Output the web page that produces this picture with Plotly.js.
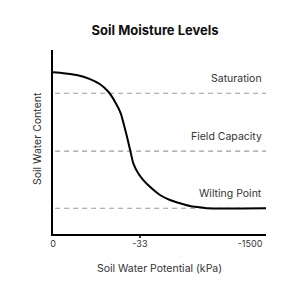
<!DOCTYPE html>
<html><head><meta charset="utf-8">
<script src="https://cdn.plot.ly/plotly-3.0.1.min.js"></script>
<style>html,body{margin:0;padding:0;background:#fff}#c{width:300px;height:300px}</style>
</head><body><div id="c"></div>
<script>
// Curve: position along potential axis (0..100) vs water content (0..100)
const curveX = [0, 4.8, 11.1, 17.4, 22.1, 26.0, 29.1, 31.8, 34.6, 36.2, 37.7, 40.0, 42.4, 46.3, 50.2, 54.9, 59.6, 64.3, 69.0, 72.2, 100];
const curveY = [87.9, 87.4, 86.4, 84.2, 81.4, 77.3, 71.9, 65.6, 53.5, 45.7, 38.4, 33.0, 29.3, 24.8, 21.2, 18.5, 16.7, 15.2, 14.5, 14, 14];
const levelNames = ["Saturation", "Field Capacity", "Wilting Point"];
const levelValues = [76.5, 45, 14];
const tickPositions = [0, 40.8, 92.5];
const tickLabels = ["0", "-33", "-1500"];
const markedTick = 40.8;

const FONT = "Inter, 'Noto Sans', sans-serif";
const traces = levelValues.map(v => ({
  x: [1, 100], y: [v, v], mode: "lines", hoverinfo: "skip",
  line: {color: "#9a9a9a", width: 1.2, dash: "5px,4px"}, showlegend: false
}));
traces.push({
  x: curveX, y: curveY, mode: "lines", showlegend: false,
  line: {color: "#000", width: 2, shape: "spline", smoothing: 0.5}
});

const annotations = levelNames.map((n, i) => ({
  x: 99, y: levelValues[i], xref: "x", yref: "y", text: n, showarrow: false,
  xanchor: "right", yanchor: "bottom", yshift: 6,
  font: {family: FONT, size: 10.5, color: "#333"}
}));
annotations.push({
  x: 0, y: 0.5, xref: "paper", yref: "paper", xshift: -16, yshift: 3, textangle: -90,
  text: "Soil Water Content", showarrow: false, xanchor: "center", yanchor: "middle",
  font: {family: FONT, size: 10.5, color: "#333"}
});

Plotly.newPlot("c", traces, {
  width: 300, height: 300,
  margin: {l: 53, r: 34, t: 50, b: 66},
  paper_bgcolor: "#fff", plot_bgcolor: "#fff",
  title: {text: "<b>Soil Moisture Levels</b>", x: 0.517, xref: "container", y: 0.897, yanchor: "middle",
          font: {family: FONT, size: 13, color: "#111"}},
  xaxis: {range: [0, 100], showgrid: false, zeroline: false, showline: true, linecolor: "#000", linewidth: 2,
          tickvals: tickPositions, ticktext: tickLabels, ticks: "", tickfont: {family: FONT, size: 9, color: "#333"},
          title: {text: "Soil Water Potential (kPa)", standoff: 17, font: {family: FONT, size: 10.5, color: "#333"}},
          fixedrange: true},
  yaxis: {range: [0, 100], showgrid: false, zeroline: false, showline: true, linecolor: "#000", linewidth: 2,
          showticklabels: false, ticks: "", fixedrange: true},
  shapes: [{type: "line", xref: "x", yref: "paper", x0: markedTick, x1: markedTick, y0: 0, y1: -0.022,
            line: {color: "#000", width: 1.5}}],
  annotations: annotations
}, {displayModeBar: false, staticPlot: true});
</script></body></html>
